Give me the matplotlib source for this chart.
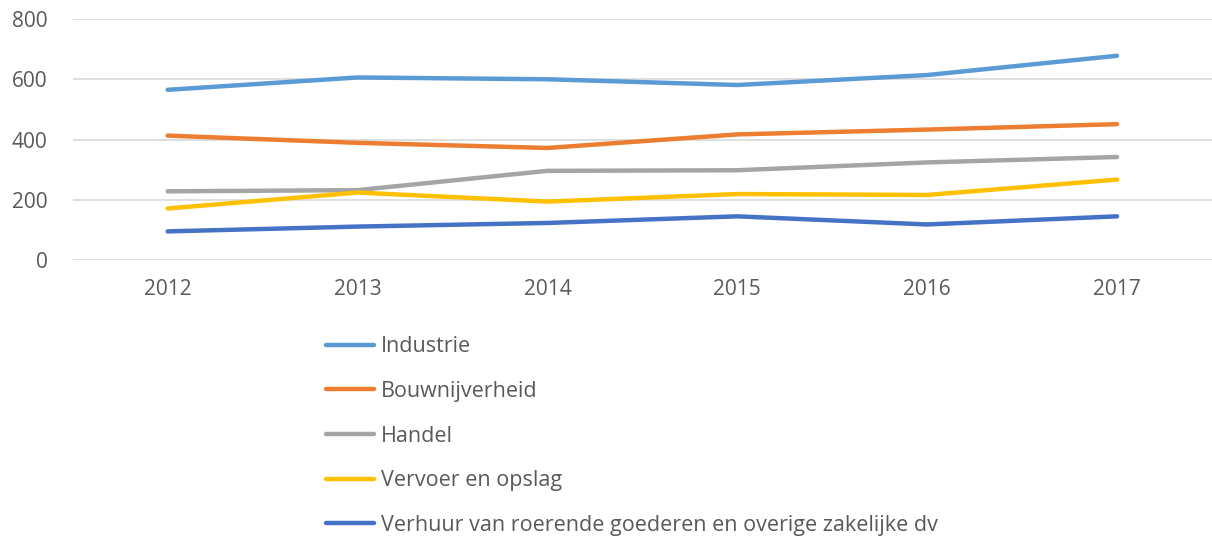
import matplotlib.pyplot as plt
import numpy as np

plt.rcParams['font.family'] = ['Open Sans', 'DejaVu Sans']

jaren = ['2012', '2013', '2014', '2015', '2016', '2017']

industrie = [565, 606, 600, 581, 614, 678]
bouw = [413, 389, 372, 417, 433, 451]
handel = [228, 232, 296, 298, 324, 342]
vervoer = [171, 224, 194, 219, 216, 267]
verhuur = [95, 111, 123, 145, 118, 145]

namen = ['Industrie', 'Bouwnijverheid', 'Handel', 'Vervoer en opslag',
         'Verhuur van roerende goederen en overige zakelijke dv']
kleuren = ['#5B9BD5', '#ED7D31', '#A5A5A5', '#FFC000', '#4472C4']
reeksen = [industrie, bouw, handel, vervoer, verhuur]

fig = plt.figure(figsize=(12.12, 5.39), dpi=100)
ax = fig.add_axes([0.060, 0.5176, 0.94, 0.4471])

x = np.arange(len(jaren))
lijnen = []
for waarden, naam, kleur in zip(reeksen, namen, kleuren):
    l, = ax.plot(x, waarden, color=kleur, linewidth=3.2, label=naam,
                 solid_capstyle='round', solid_joinstyle='round')
    lijnen.append(l)

ax.set_xlim(-0.5, 5.5)
ax.set_ylim(0, 800)
ax.set_yticks([0, 200, 400, 600, 800])
ax.set_xticks(x)
ax.set_xticklabels(jaren)
ax.grid(axis='y', color='#D9D9D9', linewidth=1.2)
ax.set_axisbelow(True)
for s in ax.spines.values():
    s.set_visible(False)
ax.tick_params(axis='both', length=0, labelsize=15, colors='#595959')
ax.tick_params(axis='y', pad=18)
ax.tick_params(axis='x', pad=14)

fig.legend(handles=lijnen, loc='upper left', bbox_to_anchor=(0.253, 0.412),
           frameon=False, fontsize=15.5, labelcolor='#595959',
           handlelength=2.25, handletextpad=0.3, labelspacing=1.1)

plt.savefig('out.png', format='png')
